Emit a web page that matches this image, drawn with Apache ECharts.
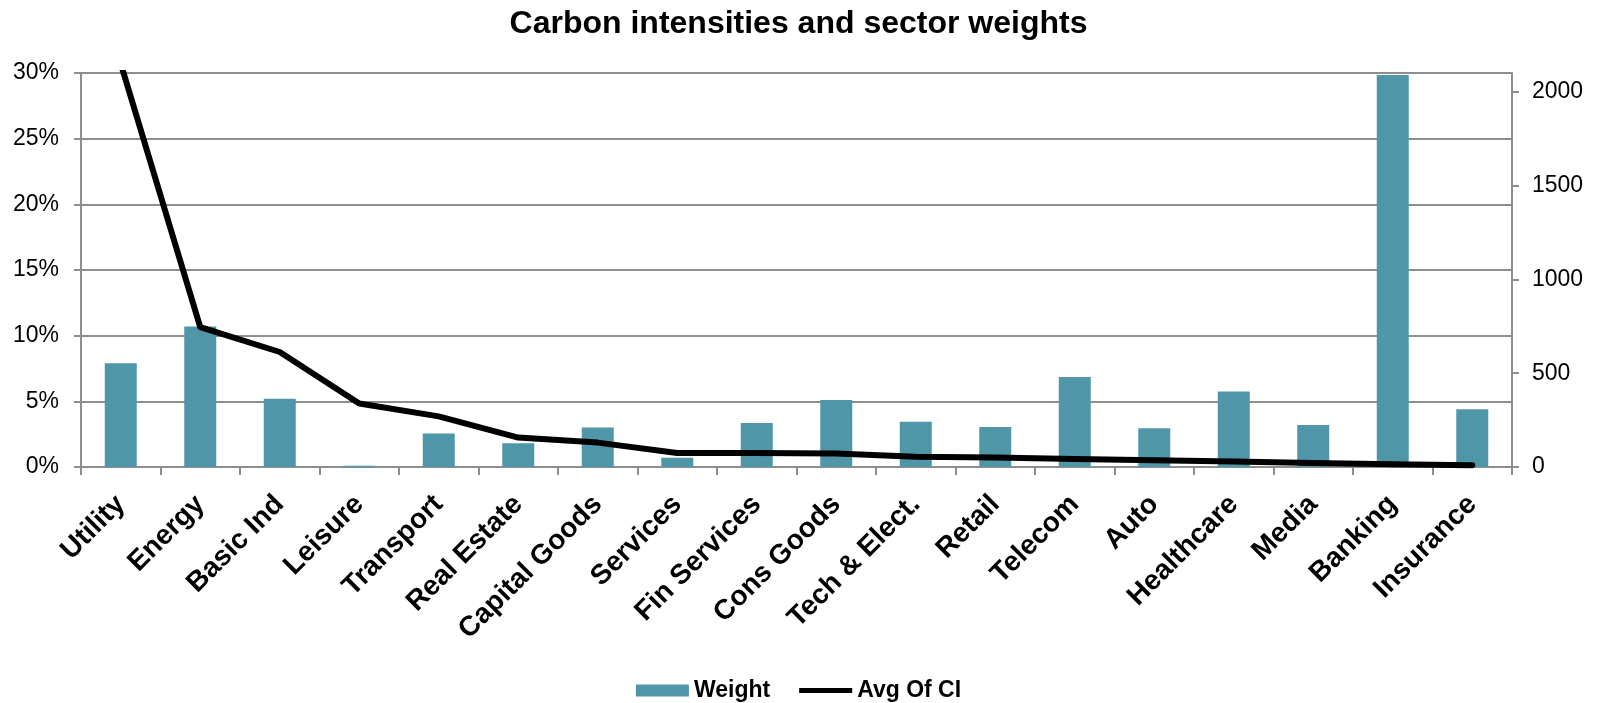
<!DOCTYPE html>
<html>
<head>
<meta charset="utf-8">
<title>Carbon intensities and sector weights</title>
<script src="https://cdn.jsdelivr.net/npm/echarts@6/dist/echarts.min.js"></script>
<style>
  html, body { margin: 0; padding: 0; background: #ffffff; }
  #chart { width: 1597px; height: 703px; }
</style>
</head>
<body>
<div id="chart"></div>
<script>
// Sectors, ordered by average carbon intensity
const sectors = ['Utility', 'Energy', 'Basic Ind', 'Leisure', 'Transport', 'Real Estate',
  'Capital Goods', 'Services', 'Fin Services', 'Cons Goods', 'Tech & Elect.', 'Retail',
  'Telecom', 'Auto', 'Healthcare', 'Media', 'Banking', 'Insurance'];

// Sector weight in the portfolio (%)
const weight = [7.9, 10.7, 5.2, 0.1, 2.55, 1.8, 3.0, 0.7, 3.35, 5.1, 3.45, 3.05,
  6.85, 2.95, 5.75, 3.2, 29.85, 4.4];

// Average carbon intensity per sector
const avgCI = [2150, 745, 613, 338, 270, 157, 130, 75, 75, 72, 55, 50,
  43, 36, 29, 21, 14, 9];

// Axis ticks
const weightTicks = [0, 5, 10, 15, 20, 25, 30];
const ciTicks = [0, 500, 1000, 1500, 2000];

const FONT = "'Liberation Sans', Arial, Helvetica, sans-serif";
const GRID_GREY = '#8e8e8e';
const BAR_COLOR = '#4f96a8';

const chart = echarts.init(document.getElementById('chart'), null, { renderer: 'canvas' });

chart.setOption({
  animation: false,
  backgroundColor: '#ffffff',
  textStyle: { fontFamily: FONT, color: '#000' },
  title: {
    text: 'Carbon intensities and sector weights',
    left: 'center',
    top: 8,
    padding: 0,
    textStyle: { fontFamily: FONT, fontSize: 32, fontWeight: 'bold', color: '#000' }
  },
  legend: {
    top: 674,
    left: 'center',
    itemWidth: 53,
    itemHeight: 12,
    itemGap: 29,
    symbolKeepAspect: true,
    textStyle: { fontFamily: FONT, fontSize: 23, fontWeight: 'bold', color: '#000' },
    data: [
      { name: 'Weight', icon: 'rect' },
      { name: 'Avg Of CI', icon: 'path://M0,0H53V5H0Z' }
    ]
  },
  grid: { left: 81, right: 85, top: 73, bottom: 236, containLabel: false },
  xAxis: {
    type: 'category',
    data: sectors,
    boundaryGap: true,
    axisLine: { show: true, lineStyle: { color: GRID_GREY, width: 2 } },
    axisTick: { show: true, length: 8, lineStyle: { color: GRID_GREY, width: 2 } },
    axisLabel: {
      rotate: 45,
      interval: 0,
      margin: 33,
      fontFamily: FONT,
      fontSize: 28,
      fontWeight: 'bold',
      color: '#000'
    }
  },
  yAxis: [
    {
      type: 'value',
      min: 0,
      max: 30,
      interval: 5,
      position: 'left',
      axisLine: { show: true, lineStyle: { color: GRID_GREY, width: 2 } },
      axisTick: { show: true, length: 7, lineStyle: { color: GRID_GREY, width: 2 } },
      axisLabel: {
        margin: 22,
        fontFamily: FONT,
        fontSize: 23,
        color: '#000',
        customValues: weightTicks,
        formatter: '{value}%'
      },
      splitLine: { show: true, lineStyle: { color: GRID_GREY, width: 2 } }
    },
    {
      type: 'value',
      min: 0,
      max: 2100,
      interval: 500,
      position: 'right',
      axisLine: { show: true, lineStyle: { color: GRID_GREY, width: 2 } },
      axisTick: { show: true, length: 7, lineStyle: { color: GRID_GREY, width: 2 }, customValues: ciTicks },
      axisLabel: {
        margin: 20,
        fontFamily: FONT,
        fontSize: 23,
        color: '#000',
        customValues: ciTicks,
        formatter: (v) => String(v)
      },
      splitLine: { show: false }
    }
  ],
  series: [
    {
      name: 'Weight',
      type: 'bar',
      yAxisIndex: 0,
      data: weight,
      barWidth: 32,
      itemStyle: { color: BAR_COLOR }
    },
    {
      name: 'Avg Of CI',
      type: 'line',
      yAxisIndex: 1,
      data: avgCI,
      symbol: 'none',
      clip: true,
      lineStyle: { color: '#000', width: 6, cap: 'round', join: 'round' },
      itemStyle: { color: '#000' }
    }
  ]
});
</script>
</body>
</html>
